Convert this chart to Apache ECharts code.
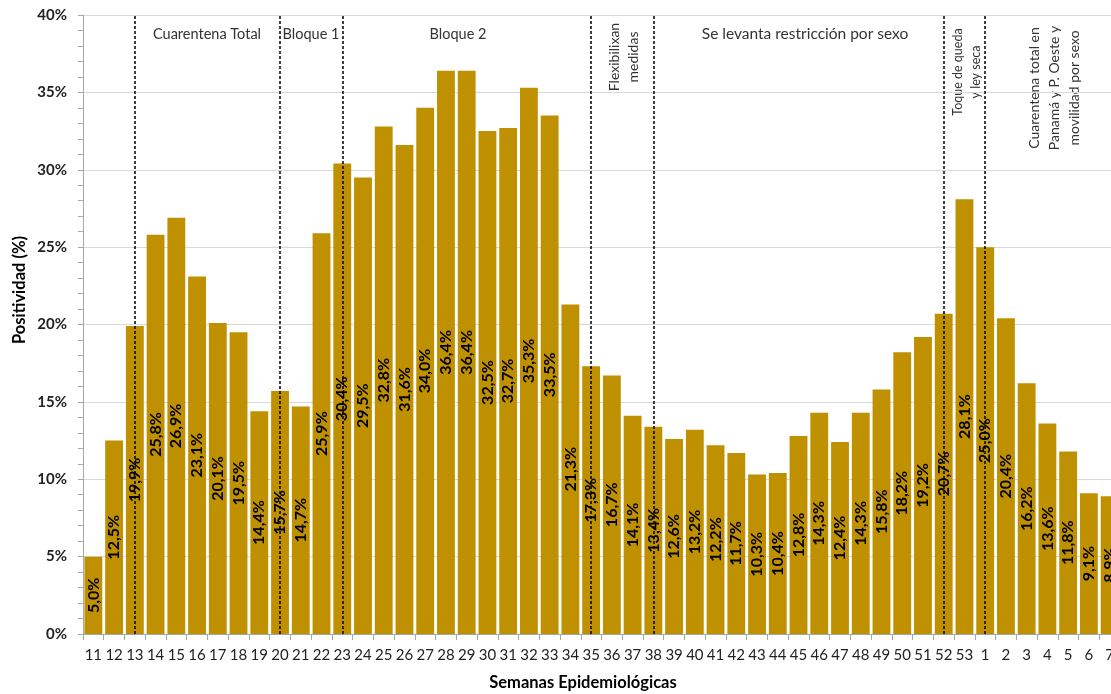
<!DOCTYPE html>
<html>
<head>
<meta charset="utf-8">
<script src="https://cdn.jsdelivr.net/npm/echarts@6/dist/echarts.min.js"></script>
<style>
html,body{margin:0;padding:0;background:#fff;}
#chart{width:1111px;height:694px;}
</style>
</head>
<body>
<div id="chart"></div>
<script>
const weeks = ['11','12','13','14','15','16','17','18','19','20','21','22','23','24','25','26','27','28','29','30','31','32','33','34','35','36','37','38','39','40','41','42','43','44','45','46','47','48','49','50','51','52','53','1','2','3','4','5','6','7'];
const positividad = [5.0,12.5,19.9,25.8,26.9,23.1,20.1,19.5,14.4,15.7,14.7,25.9,30.4,29.5,32.8,31.6,34.0,36.4,36.4,32.5,32.7,35.3,33.5,21.3,17.3,16.7,14.1,13.4,12.6,13.2,12.2,11.7,10.3,10.4,12.8,14.3,12.4,14.3,15.8,18.2,19.2,20.7,28.1,25.0,20.4,16.2,13.6,11.8,9.1,8.9];
const eventWeeks = ['13','20','23','35','38','52','1'];
const yTicks = [0,5,10,15,20,25,30,35,40];

const FONT = 'Lato, "Liberation Sans", sans-serif';
const chart = echarts.init(document.getElementById('chart'), null, {renderer:'canvas'});

const option = {
  animation: false,
  backgroundColor: '#fff',
  grid: {left: 83, width: 1037, top: 15, bottom: 60, containLabel: false, outerBoundsMode: 'none'},
  xAxis: {
    type: 'category',
    data: weeks,
    axisLine: {lineStyle: {color: '#a6a6a6', width: 1}},
    axisTick: {show: true, alignWithLabel: false, length: 6, lineStyle: {color: '#a6a6a6'}},
    axisLabel: {interval: 0, hideOverlap: false, margin: 14, color: '#222', fontSize: 15, fontFamily: FONT}
  },
  yAxis: {
    type: 'value',
    min: yTicks[0],
    max: yTicks[yTicks.length-1],
    interval: 5,
    axisLine: {show: true, lineStyle: {color: '#a6a6a6'}},
    axisTick: {show: true, length: 5, lineStyle: {color: '#a6a6a6'}},
    minorTick: {show: true, splitNumber: 5, length: 5, lineStyle: {color: '#a6a6a6'}},
    splitLine: {show: true, lineStyle: {color: '#d9d9d9', width: 1}},
    axisLabel: {margin: 16, color: '#222', fontSize: 15, fontWeight: 'bold', fontFamily: FONT, formatter: v => v + '%'}
  },
  series: [{
    type: 'bar',
    data: positividad,
    barCategoryGap: '14%',
    itemStyle: {color: '#BF9000'},
    label: {
      show: true,
      position: 'inside',
      rotate: 90,
      color: '#000',
      fontSize: 16,
      fontWeight: 'bold',
      fontFamily: FONT,
      formatter: p => p.value.toFixed(1).replace('.', ',') + '%'
    },
    markLine: {
      silent: true,
      symbol: ['none','none'],
      label: {show: false},
      lineStyle: {color: '#000', type: [3,2], width: 1.5},
      data: eventWeeks.map(w => ({xAxis: w}))
    }
  }],
  graphic: [
    {type:'text', x:207, y:34, style:{text:'Cuarentena Total', fill:'#333', font:'14.5px ' + FONT, align:'center', verticalAlign:'middle'}},
    {type:'text', x:311, y:34, style:{text:'Bloque 1', fill:'#333', font:'14.5px ' + FONT, align:'center', verticalAlign:'middle'}},
    {type:'text', x:458, y:34, style:{text:'Bloque 2', fill:'#333', font:'14.5px ' + FONT, align:'center', verticalAlign:'middle'}},
    {type:'text', x:805, y:34, style:{text:'Se levanta restricción por sexo', fill:'#333', font:'15.5px ' + FONT, align:'center', verticalAlign:'middle'}},
    {type:'text', x:624, y:57, rotation:Math.PI/2, style:{text:'Flexibilixan\nmedidas', fill:'#333', font:'14px ' + FONT, lineHeight:19, align:'center', verticalAlign:'middle'}},
    {type:'text', x:967, y:72, rotation:Math.PI/2, style:{text:'Toque de queda\ny ley seca', fill:'#333', font:'12.5px ' + FONT, lineHeight:18, align:'center', verticalAlign:'middle'}},
    {type:'text', x:1054, y:88, rotation:Math.PI/2, style:{text:'Cuarentena total en\nPanamá y P. Oeste y\nmovilidad por sexo', fill:'#333', font:'14px ' + FONT, lineHeight:20, align:'center', verticalAlign:'middle'}},
    {type:'text', x:20, y:290, rotation:Math.PI/2, style:{text:'Positividad (%)', fill:'#000', font:'bold 16.5px ' + FONT, align:'center', verticalAlign:'middle'}},
    {type:'text', x:583, y:683, style:{text:'Semanas Epidemiológicas', fill:'#000', font:'bold 16.5px ' + FONT, align:'center', verticalAlign:'middle'}}
  ]
};
chart.setOption(option);
</script>
</body>
</html>
